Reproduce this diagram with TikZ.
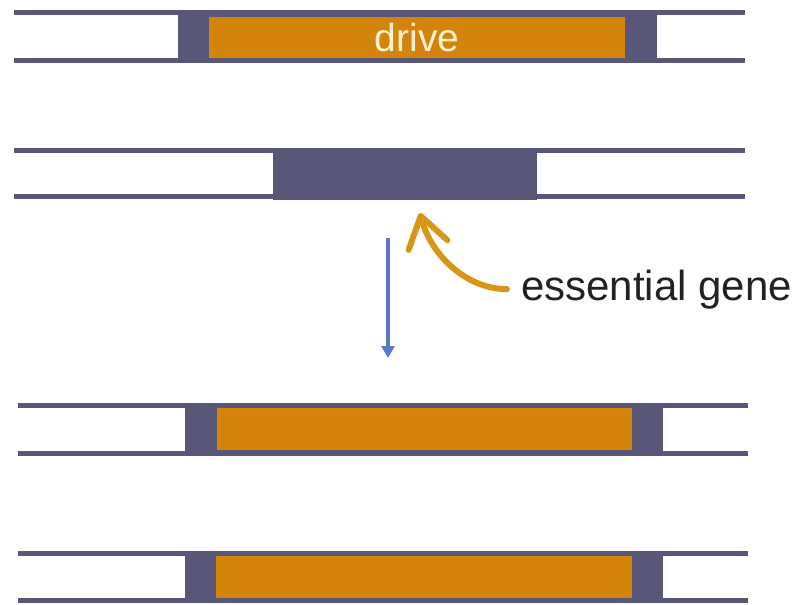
\documentclass[tikz,border=0pt]{standalone}
\usepackage{fontspec}
\setmainfont{Liberation Sans}
\usetikzlibrary{arrows.meta}

\definecolor{slate}{RGB}{88,87,120}
\definecolor{cassette}{RGB}{212,132,10}
\definecolor{pointer}{RGB}{216,150,24}
\definecolor{flow}{RGB}{92,120,200}
\definecolor{cream}{RGB}{252,242,205}
\definecolor{ink}{RGB}{34,34,34}

\tikzset{
  strand/.style={draw=slate, line width=5bp},
  locus/.style={fill=slate, draw=none, inner sep=0pt, outer sep=0pt},
  insert/.style={fill=cassette, draw=none, inner sep=0pt, outer sep=0pt,
    text=cream, font=\fontsize{39bp}{46bp}\selectfont},
  caption/.style={inner sep=0pt, outer sep=0pt, text=ink,
    font=\fontsize{42bp}{50bp}\selectfont},
  callout/.style={draw=pointer, line width=6bp, line cap=round,
    -{Straight Barb[length=30bp, width=40bp, round]}},
  progress/.style={draw=flow, line width=3.5bp,
    -{Triangle[length=12bp, width=13bp]}},
}

\begin{document}
\begin{tikzpicture}[x={(1bp,0)}, y={(0,-1bp)}]
  \useasboundingbox (0,0) rectangle (807,605);

  % chromosome 1: drive inserted into the locus
  \node[locus, minimum width=479bp, minimum height=53bp] (l1) at (417.5,37) {};
  \draw[strand] (14,13) -- (745,13);
  \draw[strand] (14,61) -- (745,61);
  \node[insert, minimum width=416bp, minimum height=41bp] (d1) at (417,37.5) {drive};

  % chromosome 2: intact essential gene
  \node[locus, minimum width=264bp, minimum height=51bp] (ess) at (405,174) {};
  \draw[strand] (14,151) -- (745,151);
  \draw[strand] (14,197) -- (745,197);

  % label with curved pointer
  \node[caption, anchor=base west] (gene) at (521,300) {essential gene};
  \draw[callout] ([xshift=-14bp]gene.west)
    .. controls +(-42,0) and +(10,40) ..
    ([xshift=15bp, yshift=-13.5bp]ess.south);

  % conversion step
  \coordinate (s0) at (388,238);
  \coordinate (s1) at (388,358);
  \draw[progress] (s0) -- (s1);

  % resulting homozygous pair
  \node[locus, minimum width=478bp, minimum height=53bp] (l3) at (424,429) {};
  \draw[strand] (18,405) -- (748,405);
  \draw[strand] (18,453) -- (748,453);
  \node[insert, minimum width=415bp, minimum height=42bp] (d3) at (424.5,429) {};

  \node[locus, minimum width=478bp, minimum height=52bp] (l4) at (424,576.5) {};
  \draw[strand] (18,553) -- (748,553);
  \draw[strand] (18,600) -- (748,600);
  \node[insert, minimum width=416bp, minimum height=42bp] (d4) at (424,576.5) {};
\end{tikzpicture}
\end{document}
